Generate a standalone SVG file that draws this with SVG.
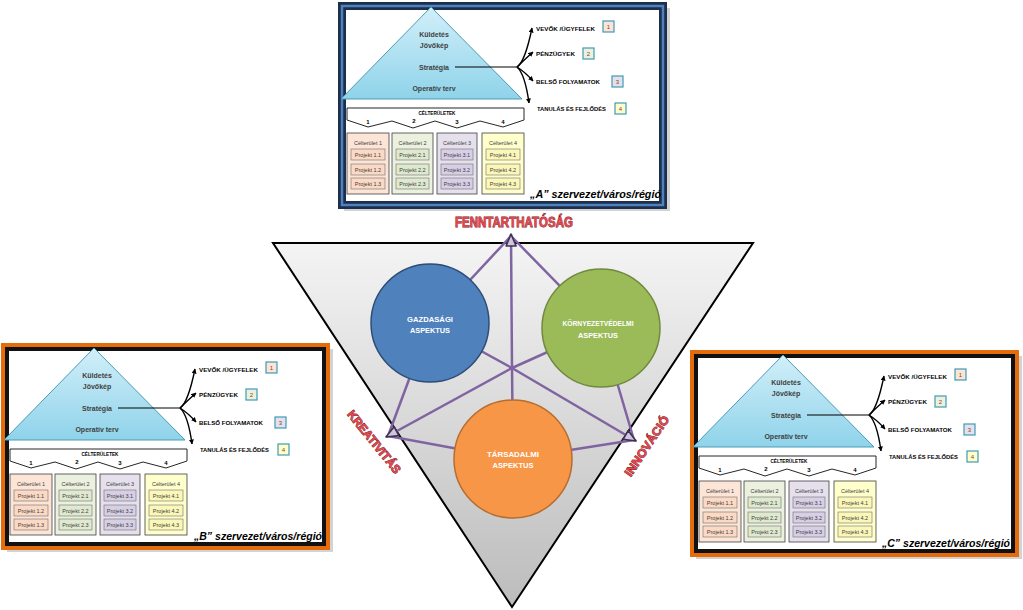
<svg xmlns="http://www.w3.org/2000/svg" width="1023" height="610" viewBox="0 0 1023 610">
<style>
text{font-family:"Liberation Sans",Arial,sans-serif}
.pyr{font-size:7px;font-weight:bold;fill:#3f3f3f;text-anchor:middle}
.lbl{font-size:6.1px;font-weight:bold;fill:#000}
.nbt{font-size:6px;fill:#7f3f1f;text-anchor:middle}
.nb{stroke:#3f9bb5;stroke-width:1.2}
.col{stroke:#404040;stroke-width:0.8}
.prj{stroke:#707070;stroke-width:0.6}
.ct{font-size:5.5px;fill:#404040;text-anchor:middle}
.bn{font-size:6px;font-weight:bold;fill:#000;text-anchor:middle}
.bt{font-size:5px;font-weight:bold;fill:#000;text-anchor:middle}
.foot{font-size:11px;font-weight:bold;font-style:italic;fill:#000;text-anchor:end}
.fork{fill:none;stroke:#000;stroke-width:1.4}
.banner{fill:#fff;stroke:#262626;stroke-width:1}
.shadow{fill:#808080;opacity:.35}
.c1{fill:#fce4d6}.p1{fill:#fbd9c4}
.c2{fill:#ebf1de}.p2{fill:#dfe9cf}
.c3{fill:#e5e0ec}.p3{fill:#d7cfe6}
.c4{fill:#ffffcc}.p4{fill:#fbf7b8}
.star{stroke:#8064a2;stroke-width:2.5;fill:none}
.red{font-weight:bold;fill:#e5464e;stroke:#6b1515;stroke-width:0.8;paint-order:stroke;text-anchor:middle}
.asp{font-size:8px;font-weight:bold;fill:#fff;text-anchor:middle}
</style>
<defs>
<linearGradient id="pyrg" x1="0" y1="0" x2="0" y2="1"><stop offset="0" stop-color="#d2eff9"/><stop offset="1" stop-color="#8fd3ea"/></linearGradient>
<linearGradient id="trig" x1="0" y1="0" x2="0" y2="1"><stop offset="0" stop-color="#f4f4f4"/><stop offset="1" stop-color="#bcbcbc"/></linearGradient>
<marker id="ah" viewBox="0 0 10 10" refX="9" refY="5" markerWidth="5" markerHeight="5" orient="auto" markerUnits="userSpaceOnUse"><path d="M0,0 L10,5 L0,10 z" fill="#000"/></marker>
<marker id="ph" viewBox="0 0 14 12" refX="13" refY="6" markerWidth="14" markerHeight="12" orient="auto" markerUnits="userSpaceOnUse"><path d="M1,1 L13,6 L1,11 z" fill="#cfc7e0" stroke="#3f3151" stroke-width="1.6" stroke-linejoin="round"/></marker>
</defs>

<!-- central triangle -->
<g id="triangle">
<polygon points="273,243 753,243 512,607" fill="url(#trig)" stroke="#000" stroke-width="2"/>
</g>
<g id="connectors">
<line class="star" x1="511" y1="236" x2="430" y2="323"/>
<line class="star" x1="511" y1="236" x2="601" y2="328"/>
<line class="star" x1="388" y1="436" x2="430" y2="323"/>
<line class="star" x1="388" y1="436" x2="513" y2="459"/>
<line class="star" x1="634" y1="440" x2="601" y2="328"/>
<line class="star" x1="634" y1="440" x2="513" y2="459"/>
<line class="star" x1="512" y1="368" x2="430" y2="323"/>
<line class="star" x1="512" y1="368" x2="601" y2="328"/>
<line class="star" x1="512" y1="368" x2="513" y2="459"/>
<line class="star" x1="512" y1="368" x2="511" y2="234" marker-end="url(#ph)"/>
<line class="star" x1="512" y1="368" x2="386" y2="437" marker-end="url(#ph)"/>
<line class="star" x1="512" y1="368" x2="636" y2="441" marker-end="url(#ph)"/>
</g>
<g id="gazdasagi">
<circle cx="430" cy="323" r="59" fill="#4f81bd" stroke="#2c4d75" stroke-width="1.5"/>
<text class="asp" x="430" y="322" textLength="46" lengthAdjust="spacingAndGlyphs">GAZDASÁGI</text>
<text class="asp" x="430" y="333" textLength="40" lengthAdjust="spacingAndGlyphs">ASPEKTUS</text>
</g>
<g id="kornyezet">
<circle cx="601" cy="328" r="59" fill="#9bbb59" stroke="#71893f" stroke-width="1.5"/>
<text class="asp" x="598" y="326" textLength="71" lengthAdjust="spacingAndGlyphs">KÖRNYEZETVÉDELMI</text>
<text class="asp" x="598" y="338" textLength="40" lengthAdjust="spacingAndGlyphs">ASPEKTUS</text>
</g>
<g id="tarsadalmi">
<circle cx="513" cy="459" r="59" fill="#f79646" stroke="#b66d31" stroke-width="1.5"/>
<text class="asp" x="513" y="457" textLength="52" lengthAdjust="spacingAndGlyphs">TÁRSADALMI</text>
<text class="asp" x="513" y="468" textLength="41" lengthAdjust="spacingAndGlyphs">ASPEKTUS</text>
</g>
<g id="labels">
<text class="red" x="514" y="227" font-size="14" textLength="118" lengthAdjust="spacingAndGlyphs">FENNTARTHATÓSÁG</text>
<text class="red" font-size="12" transform="translate(374,442) rotate(51)" x="0" y="4" textLength="77" lengthAdjust="spacingAndGlyphs">KREATIVITÁS</text>
<text class="red" font-size="12" transform="translate(647,446) rotate(-56)" x="0" y="4" textLength="70" lengthAdjust="spacingAndGlyphs">INNOVÁCIÓ</text>
</g>

<!-- Panel A -->
<g id="panel-a" transform="translate(338,2)">
<rect class="shadow" x="6" y="6" width="326" height="203"/>
<rect x="4" y="4" width="321" height="199" fill="#fff" stroke="#1c2f4d" stroke-width="8"/>
<rect x="4" y="4" width="321" height="199" fill="none" stroke="#4f81bd" stroke-width="2.5"/>
<polygon points="93,5 3,97 184,97" fill="url(#pyrg)" stroke="#4a9bb8" stroke-width="1"/>
<text class="pyr" x="96" y="34.5">Küldetés</text>
<text class="pyr" x="96" y="45.5">Jövőkép</text>
<text class="pyr" x="96" y="67.5">Stratégia</text>
<text class="pyr" x="96" y="88.5">Operatív terv</text>
<line x1="117" y1="65" x2="179" y2="65" stroke="#000" stroke-width="1"/>
<path class="fork" d="M179,65 Q187,60 194,26" marker-end="url(#ah)"/>
<path class="fork" d="M179,65 Q186,58 195,50" marker-end="url(#ah)"/>
<path class="fork" d="M179,65 Q187,70 195,79" marker-end="url(#ah)"/>
<path class="fork" d="M179,65 Q187,72 191,101" marker-end="url(#ah)"/>
<text class="lbl" x="198" y="28.5" textLength="59" lengthAdjust="spacingAndGlyphs">VEVŐK /ÜGYFELEK</text>
<text class="lbl" x="198" y="53.5" textLength="39" lengthAdjust="spacingAndGlyphs">PÉNZÜGYEK</text>
<text class="lbl" x="198" y="81.5" textLength="64" lengthAdjust="spacingAndGlyphs">BELSŐ FOLYAMATOK</text>
<text class="lbl" x="199" y="108.5" textLength="69" lengthAdjust="spacingAndGlyphs">TANULÁS ÉS FEJLŐDÉS</text>
<rect class="nb c1" x="265" y="19" width="11" height="11"/><text class="nbt" x="270.5" y="26.5">1</text>
<rect class="nb c2" x="245" y="46" width="11" height="11"/><text class="nbt" x="250.5" y="53.5">2</text>
<rect class="nb c3" x="274" y="74" width="11" height="11"/><text class="nbt" x="279.5" y="81.5">3</text>
<rect class="nb c4" x="277" y="101" width="11" height="11"/><text class="nbt" x="282.5" y="108.5">4</text>
<polygon class="banner" points="9,106 186,106 186,118 165,125 142,119 119,126 97,119 75,126 54,119 30,125 9,118"/>
<text class="bt" x="99" y="112.5" textLength="37" lengthAdjust="spacingAndGlyphs">CÉLTERÜLETEK</text>
<text class="bn" x="30" y="122">1</text><text class="bn" x="76" y="121">2</text><text class="bn" x="119" y="122">3</text><text class="bn" x="165" y="122">4</text>
<rect class="col c1" x="9" y="131" width="42" height="61"/>
<rect class="col c2" x="54" y="131" width="41" height="61"/>
<rect class="col c3" x="99" y="131" width="40" height="61"/>
<rect class="col c4" x="144" y="131" width="42" height="61"/>
<text class="ct" x="30" y="143">Célterület 1</text><text class="ct" x="74.5" y="143">Célterület 2</text><text class="ct" x="119" y="143">Célterület 3</text><text class="ct" x="165" y="143">Célterület 4</text>
<rect class="prj p1" x="13" y="147" width="34" height="11"/><rect class="prj p1" x="13" y="162" width="34" height="11"/><rect class="prj p1" x="13" y="176" width="34" height="11"/>
<rect class="prj p2" x="58" y="147" width="33" height="11"/><rect class="prj p2" x="58" y="162" width="33" height="11"/><rect class="prj p2" x="58" y="176" width="33" height="11"/>
<rect class="prj p3" x="103" y="147" width="32" height="11"/><rect class="prj p3" x="103" y="162" width="32" height="11"/><rect class="prj p3" x="103" y="176" width="32" height="11"/>
<rect class="prj p4" x="148" y="147" width="34" height="11"/><rect class="prj p4" x="148" y="162" width="34" height="11"/><rect class="prj p4" x="148" y="176" width="34" height="11"/>
<text class="ct" x="30" y="154.5">Projekt 1.1</text><text class="ct" x="30" y="169.5">Projekt 1.2</text><text class="ct" x="30" y="183.5">Projekt 1.3</text>
<text class="ct" x="74.5" y="154.5">Projekt 2.1</text><text class="ct" x="74.5" y="169.5">Projekt 2.2</text><text class="ct" x="74.5" y="183.5">Projekt 2.3</text>
<text class="ct" x="119" y="154.5">Projekt 3.1</text><text class="ct" x="119" y="169.5">Projekt 3.2</text><text class="ct" x="119" y="183.5">Projekt 3.3</text>
<text class="ct" x="165" y="154.5">Projekt 4.1</text><text class="ct" x="165" y="169.5">Projekt 4.2</text><text class="ct" x="165" y="183.5">Projekt 4.3</text>
<text class="foot" x="323" y="196" textLength="131" lengthAdjust="spacingAndGlyphs">„A” szervezet/város/régió</text>
</g>

<!-- Panel B -->
<g id="panel-b" transform="translate(1,343)">
<rect class="shadow" x="6" y="6" width="326" height="203"/>
<rect x="2" y="2" width="325" height="203" fill="#fff" stroke="#e46c0a" stroke-width="4"/>
<rect x="6" y="6" width="317" height="195" fill="none" stroke="#111" stroke-width="4"/>
<polygon points="93,5 3,97 184,97" fill="url(#pyrg)" stroke="#4a9bb8" stroke-width="1"/>
<text class="pyr" x="96" y="34.5">Küldetés</text>
<text class="pyr" x="96" y="45.5">Jövőkép</text>
<text class="pyr" x="96" y="67.5">Stratégia</text>
<text class="pyr" x="96" y="88.5">Operatív terv</text>
<line x1="117" y1="65" x2="179" y2="65" stroke="#000" stroke-width="1"/>
<path class="fork" d="M179,65 Q187,60 194,26" marker-end="url(#ah)"/>
<path class="fork" d="M179,65 Q186,58 195,50" marker-end="url(#ah)"/>
<path class="fork" d="M179,65 Q187,70 195,79" marker-end="url(#ah)"/>
<path class="fork" d="M179,65 Q187,72 191,101" marker-end="url(#ah)"/>
<text class="lbl" x="198" y="28.5" textLength="59" lengthAdjust="spacingAndGlyphs">VEVŐK /ÜGYFELEK</text>
<text class="lbl" x="198" y="53.5" textLength="39" lengthAdjust="spacingAndGlyphs">PÉNZÜGYEK</text>
<text class="lbl" x="198" y="81.5" textLength="64" lengthAdjust="spacingAndGlyphs">BELSŐ FOLYAMATOK</text>
<text class="lbl" x="199" y="108.5" textLength="69" lengthAdjust="spacingAndGlyphs">TANULÁS ÉS FEJLŐDÉS</text>
<rect class="nb c1" x="265" y="19" width="11" height="11"/><text class="nbt" x="270.5" y="26.5">1</text>
<rect class="nb c2" x="245" y="46" width="11" height="11"/><text class="nbt" x="250.5" y="53.5">2</text>
<rect class="nb c3" x="274" y="74" width="11" height="11"/><text class="nbt" x="279.5" y="81.5">3</text>
<rect class="nb c4" x="277" y="101" width="11" height="11"/><text class="nbt" x="282.5" y="108.5">4</text>
<polygon class="banner" points="9,106 186,106 186,118 165,125 142,119 119,126 97,119 75,126 54,119 30,125 9,118"/>
<text class="bt" x="99" y="112.5" textLength="37" lengthAdjust="spacingAndGlyphs">CÉLTERÜLETEK</text>
<text class="bn" x="30" y="122">1</text><text class="bn" x="76" y="121">2</text><text class="bn" x="119" y="122">3</text><text class="bn" x="165" y="122">4</text>
<rect class="col c1" x="9" y="131" width="42" height="61"/>
<rect class="col c2" x="54" y="131" width="41" height="61"/>
<rect class="col c3" x="99" y="131" width="40" height="61"/>
<rect class="col c4" x="144" y="131" width="42" height="61"/>
<text class="ct" x="30" y="143">Célterület 1</text><text class="ct" x="74.5" y="143">Célterület 2</text><text class="ct" x="119" y="143">Célterület 3</text><text class="ct" x="165" y="143">Célterület 4</text>
<rect class="prj p1" x="13" y="147" width="34" height="11"/><rect class="prj p1" x="13" y="162" width="34" height="11"/><rect class="prj p1" x="13" y="176" width="34" height="11"/>
<rect class="prj p2" x="58" y="147" width="33" height="11"/><rect class="prj p2" x="58" y="162" width="33" height="11"/><rect class="prj p2" x="58" y="176" width="33" height="11"/>
<rect class="prj p3" x="103" y="147" width="32" height="11"/><rect class="prj p3" x="103" y="162" width="32" height="11"/><rect class="prj p3" x="103" y="176" width="32" height="11"/>
<rect class="prj p4" x="148" y="147" width="34" height="11"/><rect class="prj p4" x="148" y="162" width="34" height="11"/><rect class="prj p4" x="148" y="176" width="34" height="11"/>
<text class="ct" x="30" y="154.5">Projekt 1.1</text><text class="ct" x="30" y="169.5">Projekt 1.2</text><text class="ct" x="30" y="183.5">Projekt 1.3</text>
<text class="ct" x="74.5" y="154.5">Projekt 2.1</text><text class="ct" x="74.5" y="169.5">Projekt 2.2</text><text class="ct" x="74.5" y="183.5">Projekt 2.3</text>
<text class="ct" x="119" y="154.5">Projekt 3.1</text><text class="ct" x="119" y="169.5">Projekt 3.2</text><text class="ct" x="119" y="183.5">Projekt 3.3</text>
<text class="ct" x="165" y="154.5">Projekt 4.1</text><text class="ct" x="165" y="169.5">Projekt 4.2</text><text class="ct" x="165" y="183.5">Projekt 4.3</text>
<text class="foot" x="321" y="197" textLength="128" lengthAdjust="spacingAndGlyphs">„B” szervezet/város/régió</text>
</g>

<!-- Panel C -->
<g id="panel-c" transform="translate(690,350)">
<rect class="shadow" x="6" y="6" width="326" height="203"/>
<rect x="2" y="2" width="325" height="203" fill="#fff" stroke="#e46c0a" stroke-width="4"/>
<rect x="6" y="6" width="317" height="195" fill="none" stroke="#111" stroke-width="4"/>
<polygon points="93,5 3,97 184,97" fill="url(#pyrg)" stroke="#4a9bb8" stroke-width="1"/>
<text class="pyr" x="96" y="34.5">Küldetés</text>
<text class="pyr" x="96" y="45.5">Jövőkép</text>
<text class="pyr" x="96" y="67.5">Stratégia</text>
<text class="pyr" x="96" y="88.5">Operatív terv</text>
<line x1="117" y1="65" x2="179" y2="65" stroke="#000" stroke-width="1"/>
<path class="fork" d="M179,65 Q187,60 194,26" marker-end="url(#ah)"/>
<path class="fork" d="M179,65 Q186,58 195,50" marker-end="url(#ah)"/>
<path class="fork" d="M179,65 Q187,70 195,79" marker-end="url(#ah)"/>
<path class="fork" d="M179,65 Q187,72 191,101" marker-end="url(#ah)"/>
<text class="lbl" x="198" y="28.5" textLength="59" lengthAdjust="spacingAndGlyphs">VEVŐK /ÜGYFELEK</text>
<text class="lbl" x="198" y="53.5" textLength="39" lengthAdjust="spacingAndGlyphs">PÉNZÜGYEK</text>
<text class="lbl" x="198" y="81.5" textLength="64" lengthAdjust="spacingAndGlyphs">BELSŐ FOLYAMATOK</text>
<text class="lbl" x="199" y="108.5" textLength="69" lengthAdjust="spacingAndGlyphs">TANULÁS ÉS FEJLŐDÉS</text>
<rect class="nb c1" x="265" y="19" width="11" height="11"/><text class="nbt" x="270.5" y="26.5">1</text>
<rect class="nb c2" x="245" y="46" width="11" height="11"/><text class="nbt" x="250.5" y="53.5">2</text>
<rect class="nb c3" x="274" y="74" width="11" height="11"/><text class="nbt" x="279.5" y="81.5">3</text>
<rect class="nb c4" x="277" y="101" width="11" height="11"/><text class="nbt" x="282.5" y="108.5">4</text>
<polygon class="banner" points="9,106 186,106 186,118 165,125 142,119 119,126 97,119 75,126 54,119 30,125 9,118"/>
<text class="bt" x="99" y="112.5" textLength="37" lengthAdjust="spacingAndGlyphs">CÉLTERÜLETEK</text>
<text class="bn" x="30" y="122">1</text><text class="bn" x="76" y="121">2</text><text class="bn" x="119" y="122">3</text><text class="bn" x="165" y="122">4</text>
<rect class="col c1" x="9" y="131" width="42" height="61"/>
<rect class="col c2" x="54" y="131" width="41" height="61"/>
<rect class="col c3" x="99" y="131" width="40" height="61"/>
<rect class="col c4" x="144" y="131" width="42" height="61"/>
<text class="ct" x="30" y="143">Célterület 1</text><text class="ct" x="74.5" y="143">Célterület 2</text><text class="ct" x="119" y="143">Célterület 3</text><text class="ct" x="165" y="143">Célterület 4</text>
<rect class="prj p1" x="13" y="147" width="34" height="11"/><rect class="prj p1" x="13" y="162" width="34" height="11"/><rect class="prj p1" x="13" y="176" width="34" height="11"/>
<rect class="prj p2" x="58" y="147" width="33" height="11"/><rect class="prj p2" x="58" y="162" width="33" height="11"/><rect class="prj p2" x="58" y="176" width="33" height="11"/>
<rect class="prj p3" x="103" y="147" width="32" height="11"/><rect class="prj p3" x="103" y="162" width="32" height="11"/><rect class="prj p3" x="103" y="176" width="32" height="11"/>
<rect class="prj p4" x="148" y="147" width="34" height="11"/><rect class="prj p4" x="148" y="162" width="34" height="11"/><rect class="prj p4" x="148" y="176" width="34" height="11"/>
<text class="ct" x="30" y="154.5">Projekt 1.1</text><text class="ct" x="30" y="169.5">Projekt 1.2</text><text class="ct" x="30" y="183.5">Projekt 1.3</text>
<text class="ct" x="74.5" y="154.5">Projekt 2.1</text><text class="ct" x="74.5" y="169.5">Projekt 2.2</text><text class="ct" x="74.5" y="183.5">Projekt 2.3</text>
<text class="ct" x="119" y="154.5">Projekt 3.1</text><text class="ct" x="119" y="169.5">Projekt 3.2</text><text class="ct" x="119" y="183.5">Projekt 3.3</text>
<text class="ct" x="165" y="154.5">Projekt 4.1</text><text class="ct" x="165" y="169.5">Projekt 4.2</text><text class="ct" x="165" y="183.5">Projekt 4.3</text>
<text class="foot" x="320" y="197" textLength="128" lengthAdjust="spacingAndGlyphs">„C” szervezet/város/régió</text>
</g>
</svg>
